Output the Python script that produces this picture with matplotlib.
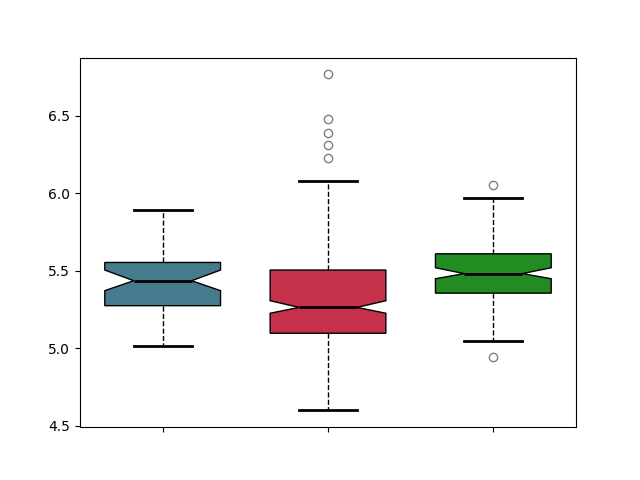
import matplotlib
matplotlib.use('Agg')
from matplotlib import pyplot as plt

# stats
q1 = [5.275, 5.097, 5.356]
medians = [5.436, 5.264, 5.482]
q3 = [5.554, 5.505, 5.610]
ci_low = [5.372, 5.226, 5.449]
ci_high = [5.505, 5.307, 5.520]
whisker_low = [5.015, 4.599, 5.046]
whisker_high = [5.890, 6.079, 5.972]
fliers = [[], [6.768, 6.482, 6.392, 6.312, 6.231], [6.054, 4.943]]
colors = ['#457b8d', '#c5304a', '#228b22']

stats = []
for i in range(3):
    stats.append({'q1': q1[i], 'med': medians[i], 'q3': q3[i],
                  'cilo': ci_low[i], 'cihi': ci_high[i],
                  'whislo': whisker_low[i], 'whishi': whisker_high[i],
                  'fliers': fliers[i], 'label': ''})

fig, ax = plt.subplots(figsize=(6.4, 4.8), dpi=100)
bp = ax.bxp(stats, shownotches=True, patch_artist=True, widths=0.7,
            boxprops=dict(edgecolor='black', linewidth=1),
            medianprops=dict(color='black', linewidth=2),
            whiskerprops=dict(color='black', linestyle='--', linewidth=1),
            capprops=dict(color='black', linewidth=2),
            flierprops=dict(marker='o', markerfacecolor='none',
                            markeredgecolor='gray', markersize=6))
for patch, c in zip(bp['boxes'], colors):
    patch.set_facecolor(c)

ax.set_xticklabels(['', '', ''])
ax.set_yticks([4.5, 5.0, 5.5, 6.0, 6.5])

plt.savefig('out.png')
